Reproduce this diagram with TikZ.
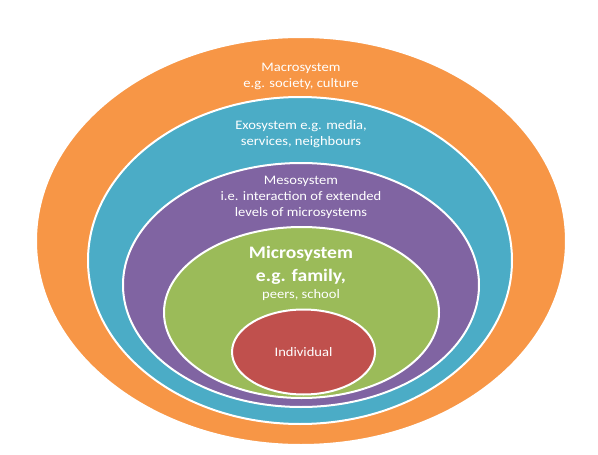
\documentclass[tikz,border=0pt]{standalone}
\usepackage{fontspec}
\setmainfont{Carlito}[FakeStretch=1.12]
\usetikzlibrary{shapes.geometric}

\definecolor{macrocol}{HTML}{F79646}
\definecolor{exocol}{HTML}{4BACC6}
\definecolor{mesocol}{HTML}{8064A2}
\definecolor{microcol}{HTML}{9BBB59}
\definecolor{indivcol}{HTML}{C0504D}

\begin{document}
\begin{tikzpicture}[x=1pt,y=-1pt]
      \tikzset{
        layer/.style={ellipse,draw=white,line width=2pt,inner sep=0pt,outer sep=0pt},
        lbl/.style={text=white,align=center,inner sep=0pt,font=\fontsize{13}{16}\selectfont},
        biglbl/.style={text=white,align=center,inner sep=0pt,font=\fontsize{17.5}{23}\selectfont\bfseries}
      }
      \useasboundingbox (0,0) rectangle (598,455);

      % the nested systems, outside to inside
      \node[layer,fill=macrocol,minimum width=530pt,minimum height=408pt] (macro) at (301,241) {};
      \node[layer,fill=exocol,minimum width=424pt,minimum height=327pt] (exo) at (300,260.5) {};
      \node[layer,fill=mesocol,minimum width=356pt,minimum height=244pt] (meso) at (301,285) {};
      \node[layer,fill=microcol,minimum width=275pt,minimum height=171pt] (micro) at (301.5,312.5) {};
      \node[layer,fill=indivcol,minimum width=143pt,minimum height=85pt] (indiv) at (303.5,352) {};

      % labels
      \node[lbl] (macrotxt) at (301,76) {Macrosystem\\e.g. society, culture};
      \node[lbl] (exotxt) at (301,134) {Exosystem e.g. media,\\services, neighbours};
      \node[lbl] (mesotxt) at (301,197) {Mesosystem\\i.e. interaction of extended\\levels of microsystems};
      \node[biglbl] (microtxt) at (301,265) {Microsystem\\e.g. family,};
      \node[lbl] (microtxt2) at (301,295) {peers, school};
      \node[lbl] (indivtxt) at (indiv) {Individual};
    \end{tikzpicture}
\end{document}
